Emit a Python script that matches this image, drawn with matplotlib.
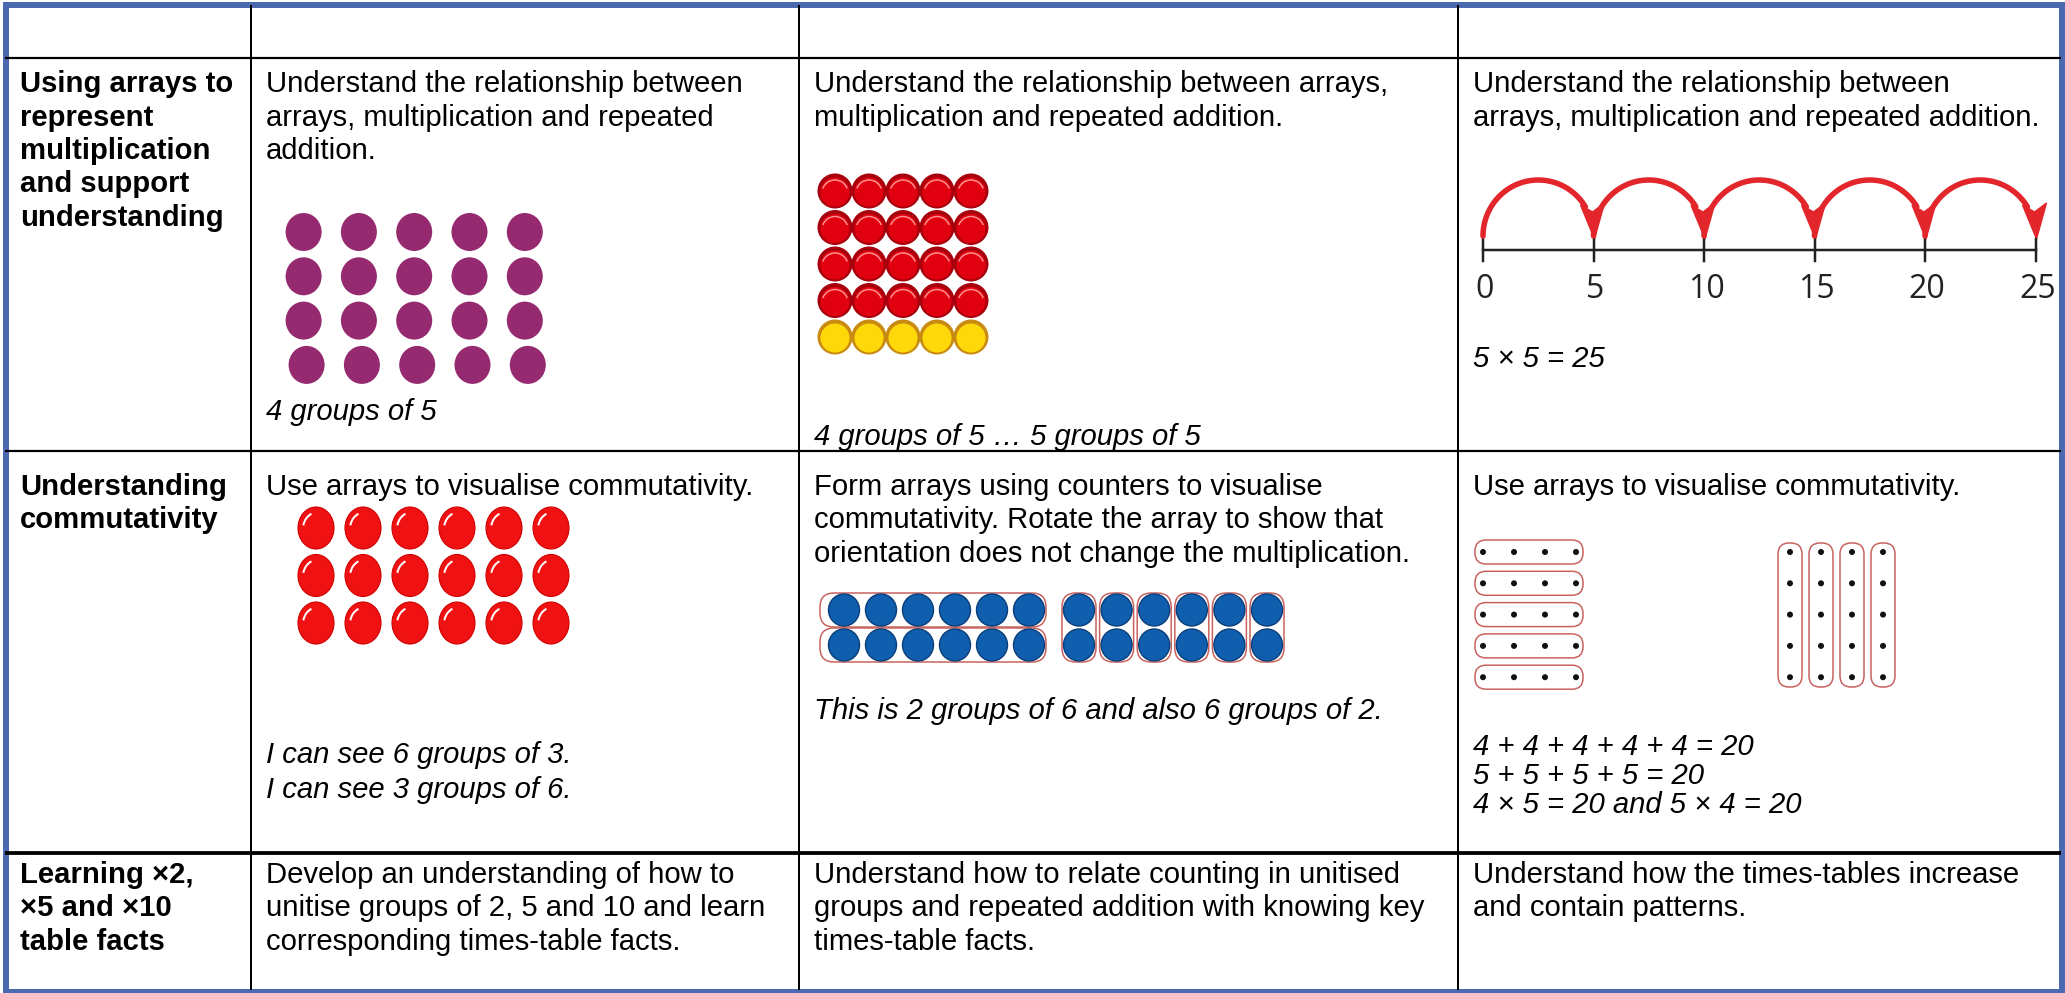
import matplotlib
matplotlib.use("Agg")
import matplotlib.pyplot as plt
from matplotlib.patches import Ellipse, FancyBboxPatch, Rectangle, Polygon, Arc
import numpy as np

# ---------------- data ----------------
header_cells = ["", "", "", ""]
row_labels = [
    ["Using arrays to", "represent", "multiplication", "and support", "understanding"],
    ["Understanding", "commutativity"],
    ["Learning \u00d72,", "\u00d75 and \u00d710", "table facts"],
]
row1_texts = [
    ["Understand the relationship between", "arrays, multiplication and repeated", "addition."],
    ["Understand the relationship between arrays,", "multiplication and repeated addition."],
    ["Understand the relationship between", "arrays, multiplication and repeated addition."],
]
row1_captions = ["4 groups of 5", "4 groups of 5 \u2026 5 groups of 5", "5 \u00d7 5 = 25"]
row2_texts = [
    ["Use arrays to visualise commutativity."],
    ["Form arrays using counters to visualise", "commutativity. Rotate the array to show that",
     "orientation does not change the multiplication."],
    ["Use arrays to visualise commutativity."],
]
row2_captions = [
    ["I can see 6 groups of 3.", "I can see 3 groups of 6."],
    ["This is 2 groups of 6 and also 6 groups of 2."],
    ["4 + 4 + 4 + 4 + 4 = 20", "5 + 5 + 5 + 5 = 20", "4 \u00d7 5 = 20 and 5 \u00d7 4 = 20"],
]
row3_texts = [
    ["Develop an understanding of how to", "unitise groups of 2, 5 and 10 and learn",
     "corresponding times-table facts."],
    ["Understand how to relate counting in unitised", "groups and repeated addition with knowing key",
     "times-table facts."],
    ["Understand how the times-tables increase", "and contain patterns."],
]
purple_rows, purple_cols = 4, 5
red_rows, yellow_rows, stack_cols = 4, 1, 5
comm_rows, comm_cols = 3, 6
blue_groups, blue_per_group = 2, 6
dot_rows, dot_cols = 5, 4
numberline_ticks = [0, 5, 10, 15, 20, 25]

# ---------------- layout ----------------
W, H = 2065, 993
fig = plt.figure(figsize=(W / 100, H / 100), dpi=100)
ax = fig.add_axes([0, 0, 1, 1])
ax.set_xlim(0, W)
ax.set_ylim(H, 0)
ax.axis("off")

PT = 0.72  # points per pixel at 100 dpi
FS = 29.3 * PT
LS = 33.5
FONT = "Liberation Sans"
BLUE_BORDER = "#4A69B1"

col_x = [5, 251, 799, 1458, 2061]
row_y = [5, 58, 451, 853, 990]
text_base = [92, 495, 883]
PADX = 15


def put_lines(x, y, lines, weight="normal", style="normal", size=FS, ls=LS):
    for i, s in enumerate(lines):
        ax.text(x, y + i * ls, s, fontsize=size, family=FONT, weight=weight,
                style=style, va="baseline", ha="left", color="black")


# grid
for x in col_x[1:-1]:
    ax.plot([x, x], [row_y[0], row_y[-1]], color="black", lw=2 * PT, solid_capstyle="butt")
for k, y in enumerate(row_y[1:-1]):
    ax.plot([col_x[0], col_x[-1]], [y, y], color="black",
            lw=(3.8 if k == 2 else 2.2) * PT, solid_capstyle="butt")
ax.add_patch(Rectangle((5.5, 4.5), 2056, 987, fill=False, edgecolor=BLUE_BORDER, lw=6 * PT))

# row labels
for r, lab in enumerate(row_labels):
    put_lines(20, text_base[r], lab, weight="bold")

# row 1 texts
for c, lines in enumerate(row1_texts):
    put_lines(col_x[c + 1] + PADX, text_base[0], lines)
cap_y = [420, 445, 367]
for c, cap in enumerate(row1_captions):
    put_lines(col_x[c + 1] + PADX, cap_y[c], [cap], style="italic")

# purple dots
for j in range(purple_rows):
    for i in range(purple_cols):
        cx = 303.6 + 55.3 * i + (3 if j == purple_rows - 1 else 0)
        cy = 232 + 44.3 * j
        ax.add_patch(Ellipse((cx, cy), 36, 38, fc="#962A70", ec="none"))

# red/yellow stacked counters
for j in range(red_rows + yellow_rows):
    red = j < red_rows
    for i in range(stack_cols):
        cx = 835 + 34 * i
        cy = 191 + 36.5 * j
        ax.add_patch(Ellipse((cx, cy), 35, 35, fc="#A8000C" if red else "#C98A12", ec="none"))
        ax.add_patch(Ellipse((cx, cy + 1), 29, 29, fc="#E1000F" if red else "#FFD80A", ec="none"))
        if red:
            ax.add_patch(Arc((cx, cy + 2), 26, 26, theta1=200, theta2=340,
                             color="#FF9090", lw=1.5 * PT))

# number line
nl_x0, nl_dx, nl_y = 1483, 110.5, 250
xs = [nl_x0 + nl_dx * k / 5 for k in numberline_ticks]
ax.plot([xs[0], xs[-1]], [nl_y, nl_y], color="#222222", lw=2.5 * PT)
for x, t in zip(xs, numberline_ticks):
    ax.plot([x, x], [nl_y - 11, nl_y + 11], color="#222222", lw=2.5 * PT)
    ax.text(x + 2, 290, str(t), fontsize=23, family="Open Sans", ha="center", va="center",
            color="#222222")
ARC_RED = "#E3262B"
arc_base, arc_h = 236, 56
for k in range(len(xs) - 1):
    a = (xs[k + 1] - xs[k]) / 2
    cx = xs[k] + a
    t = np.linspace(0, np.pi - 0.55, 80)
    px = cx - a * np.cos(t)
    py = arc_base - arc_h * np.sin(t)
    ax.plot(px, py, color=ARC_RED, lw=5.5 * PT, solid_capstyle="round")
    tipx = xs[k + 1]
    ax.add_patch(Polygon([[tipx - 13, 205], [tipx - 1, 212], [tipx + 11, 203], [tipx + 1, 239]],
                         closed=True, fc=ARC_RED, ec=ARC_RED, lw=1))

# row 2 texts
for c, lines in enumerate(row2_texts):
    put_lines(col_x[c + 1] + PADX, text_base[1], lines)
cap2_y = [763, 719, 755]
cap2_ls = [34.5, 33.5, 29]
for c, caps in enumerate(row2_captions):
    put_lines(col_x[c + 1] + PADX, cap2_y[c], caps, style="italic", ls=cap2_ls[c])

# commutativity red counters
for j in range(comm_rows):
    for i in range(comm_cols):
        cx = 316 + 47 * i
        cy = 528 + 47.5 * j
        ax.add_patch(Ellipse((cx, cy), 36, 42, fc="#F01212", ec="#D00000", lw=0.8))
        ax.add_patch(Arc((cx + 1, cy + 1), 28, 33, theta1=195, theta2=250,
                         color="white", lw=2 * PT))

# blue counters: 2 rows of 6, then 6 columns of 2
OUT = "#C8605C"
BF, BE = "#0F5FAE", "#0A3E7A"
row_c = [610, 645]
for g in range(blue_groups):
    ax.add_patch(FancyBboxPatch((822, row_c[g] - 15), 222, 30,
                                boxstyle="round,pad=2,rounding_size=14",
                                fc="none", ec=OUT, lw=1.5 * PT))
    for i in range(blue_per_group):
        cx = 844 + 37 * i
        ax.add_patch(Ellipse((cx, row_c[g]), 31, 32, fc=BF, ec=BE, lw=1))
for i in range(blue_per_group):
    cx = 1079 + 37.6 * i
    ax.add_patch(FancyBboxPatch((cx - 15, 595), 30, 65,
                                boxstyle="round,pad=2,rounding_size=14",
                                fc="none", ec=OUT, lw=1.5 * PT))
    for g in range(blue_groups):
        ax.add_patch(Ellipse((cx, row_c[g]), 31, 32, fc=BF, ec=BE, lw=1))

# small dot arrays
for j in range(dot_rows):
    cy = 552 + 31.3 * j
    ax.add_patch(FancyBboxPatch((1477, cy - 10), 104, 20,
                                boxstyle="round,pad=2,rounding_size=11",
                                fc="none", ec=OUT, lw=1.5 * PT))
    for i in range(dot_cols):
        ax.add_patch(Ellipse((1483 + 31 * i, cy), 6, 6, fc="#111111", ec="none"))
for i in range(dot_cols):
    cx = 1790 + 31 * i
    ax.add_patch(FancyBboxPatch((cx - 10, 545), 20, 140,
                                boxstyle="round,pad=2,rounding_size=11",
                                fc="none", ec=OUT, lw=1.5 * PT))
    for j in range(dot_rows):
        ax.add_patch(Ellipse((cx, 552 + 31.3 * j), 6, 6, fc="#111111", ec="none"))

# row 3 texts
for c, lines in enumerate(row3_texts):
    put_lines(col_x[c + 1] + PADX, text_base[2], lines)

fig.savefig("out.png", dpi=100, facecolor="white")
